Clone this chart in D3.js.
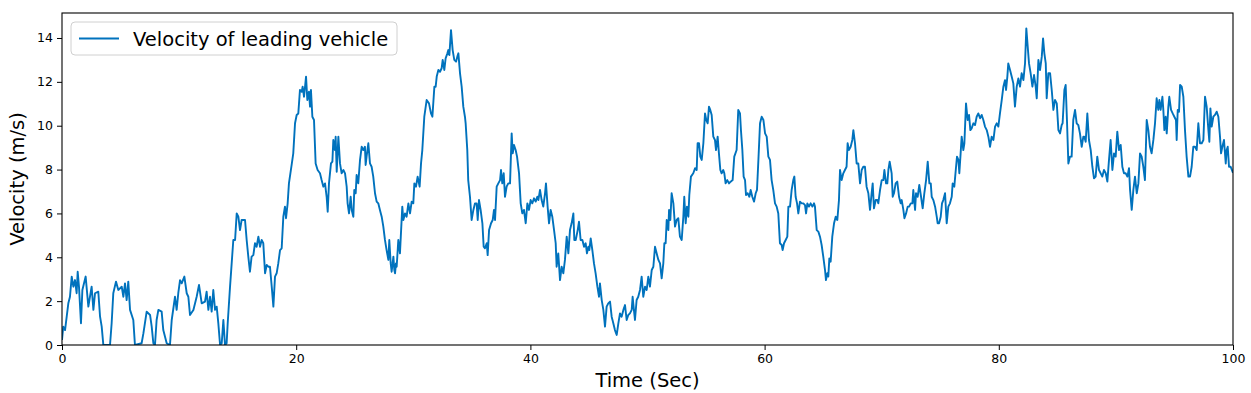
<!DOCTYPE html>
<html lang="en">
<head>
  <meta charset="UTF-8">
  <title>Velocity of leading vehicle</title>
  <script src="https://d3js.org/d3.v7.min.js"></script>
  <style>
    body, html { margin: 0; background: #fff; }
    text { font-family: "DejaVu Sans", sans-serif; }
  </style>
</head>
<body>
  <svg width="1251" height="393"></svg>
  <script>
    // data (time in sec, velocity in m/s)
    const time = [
      0, 0.11, 0.26, 0.54, 0.68, 0.83, 0.97, 1.11, 1.25, 1.34, 1.45, 1.62, 1.74, 2.02, 2.25, 2.53, 2.68, 2.82, 3.10, 3.25,
      3.39, 3.53, 4.10, 4.24, 4.38, 4.61, 4.81, 5.10, 5.24, 5.38, 5.52, 5.66, 5.81, 6.09, 6.23, 6.80, 6.95, 7.23, 7.52, 7.66,
      7.80, 7.94, 8.08, 8.23, 8.51, 8.65, 8.94, 9.22, 9.37, 9.65, 9.79, 9.93, 10.08, 10.22, 10.45, 10.65, 10.79, 10.93, 11.22, 11.50,
      11.70, 11.93, 12.21, 12.35, 12.50, 12.64, 12.78, 12.92, 13.07, 13.21, 13.35, 13.50, 13.64, 13.78, 13.92, 14.06, 14.15, 14.35, 14.49, 14.63,
      14.78, 14.92, 15.06, 15.20, 15.34, 15.48, 15.63, 15.77, 15.91, 16.05, 16.19, 16.34, 16.48, 16.62, 16.77, 16.91, 17.05, 17.19, 17.34, 17.48,
      17.62, 17.76, 17.91, 18.05, 18.19, 18.33, 18.47, 18.62, 18.76, 18.90, 19.04, 19.13, 19.27, 19.38, 19.61, 19.75, 19.90, 20.04, 20.18, 20.32,
      20.47, 20.55, 20.67, 20.84, 20.95, 21.09, 21.18, 21.26, 21.38, 21.52, 21.66, 21.83, 22.03, 22.17, 22.32, 22.46, 22.60, 22.69, 22.80, 22.97,
      23.09, 23.17, 23.31, 23.37, 23.46, 23.60, 23.74, 23.88, 24.03, 24.17, 24.31, 24.39, 24.51, 24.65, 24.74, 24.88, 24.96, 25.08, 25.16, 25.30,
      25.45, 25.59, 25.73, 25.87, 25.93, 26.01, 26.16, 26.30, 26.44, 26.58, 26.73, 26.87, 27.01, 27.15, 27.30, 27.44, 27.58, 27.72, 27.87, 27.95,
      28.07, 28.15, 28.30, 28.38, 28.44, 28.52, 28.58, 28.72, 28.86, 29.06, 29.15, 29.29, 29.43, 29.58, 29.72, 29.86, 30.00, 30.09, 30.23, 30.37,
      30.54, 30.66, 30.77, 30.94, 31.14, 31.34, 31.51, 31.63, 31.80, 31.91, 32.00, 32.14, 32.28, 32.42, 32.51, 32.65, 32.76, 32.91, 32.99, 33.08,
      33.22, 33.36, 33.50, 33.65, 33.76, 33.85, 33.99, 34.13, 34.27, 34.41, 34.47, 34.61, 34.69, 34.84, 34.98, 35.13, 35.27, 35.41, 35.50, 35.61,
      35.75, 35.90, 36.01, 36.12, 36.27, 36.35, 36.47, 36.64, 36.78, 36.89, 36.98, 37.12, 37.26, 37.41, 37.49, 37.60, 37.72, 37.83, 37.97, 38.11,
      38.26, 38.40, 38.49, 38.60, 38.74, 38.86, 39.03, 39.17, 39.31, 39.45, 39.60, 39.74, 39.88, 40.02, 40.16, 40.31, 40.45, 40.59, 40.68, 40.82,
      40.96, 41.10, 41.25, 41.33, 41.47, 41.59, 41.73, 41.87, 42.02, 42.16, 42.24, 42.38, 42.53, 42.67, 42.81, 42.95, 43.10, 43.24, 43.38, 43.52,
      43.67, 43.75, 43.87, 44.04, 44.15, 44.29, 44.44, 44.58, 44.72, 44.83, 44.95, 45.03, 45.15, 45.29, 45.43, 45.57, 45.72, 45.86, 45.94, 46.09,
      46.23, 46.37, 46.51, 46.65, 46.80, 46.94, 47.08, 47.22, 47.37, 47.51, 47.65, 47.79, 47.94, 48.08, 48.22, 48.36, 48.50, 48.65, 48.73, 48.84,
      48.93, 49.07, 49.21, 49.36, 49.50, 49.64, 49.79, 49.93, 50.07, 50.21, 50.36, 50.50, 50.64, 50.78, 50.93, 51.07, 51.21, 51.35, 51.44, 51.55,
      51.64, 51.78, 51.84, 51.95, 52.06, 52.21, 52.35, 52.49, 52.63, 52.77, 52.92, 53.06, 53.14, 53.26, 53.37, 53.49, 53.57, 53.71, 53.91, 54.06,
      54.20, 54.28, 54.40, 54.51, 54.63, 54.77, 54.91, 55.02, 55.14, 55.25, 55.36, 55.48, 55.62, 55.76, 55.85, 55.99, 56.10, 56.22, 56.33, 56.47,
      56.56, 56.67, 56.81, 56.96, 57.10, 57.27, 57.41, 57.61, 57.75, 57.90, 57.98, 58.10, 58.21, 58.33, 58.41, 58.55, 58.70, 58.81, 58.95, 59.10,
      59.24, 59.35, 59.47, 59.61, 59.75, 59.90, 60.04, 60.18, 60.32, 60.46, 60.60, 60.74, 60.89, 61.03, 61.17, 61.31, 61.46, 61.54, 61.66, 61.80,
      61.94, 62.03, 62.17, 62.31, 62.45, 62.54, 62.65, 62.77, 62.88, 63.02, 63.17, 63.31, 63.45, 63.54, 63.65, 63.79, 63.93, 64.08, 64.22, 64.30,
      64.45, 64.59, 64.73, 64.87, 65.01, 65.16, 65.24, 65.36, 65.44, 65.53, 65.64, 65.78, 65.93, 66.07, 66.21, 66.35, 66.44, 66.58, 66.72, 66.86,
      67.00, 67.09, 67.20, 67.35, 67.49, 67.58, 67.72, 67.86, 68.00, 68.15, 68.29, 68.43, 68.57, 68.71, 68.86, 69.00, 69.14, 69.23, 69.34, 69.49,
      69.63, 69.71, 69.86, 70.00, 70.14, 70.23, 70.37, 70.48, 70.57, 70.68, 70.85, 70.94, 71.05, 71.19, 71.33, 71.48, 71.62, 71.71, 71.85, 71.94,
      72.08, 72.22, 72.34, 72.48, 72.62, 72.70, 72.85, 72.93, 73.07, 73.21, 73.36, 73.50, 73.64, 73.79, 73.93, 74.07, 74.19, 74.27, 74.41, 74.56,
      74.70, 74.78, 74.90, 75.04, 75.15, 75.26, 75.41, 75.55, 75.69, 75.83, 75.98, 76.06, 76.20, 76.35, 76.43, 76.55, 76.63, 76.74, 76.83, 76.97,
      77.06, 77.20, 77.34, 77.46, 77.57, 77.68, 77.83, 77.97, 78.11, 78.25, 78.40, 78.54, 78.68, 78.82, 78.97, 79.11, 79.25, 79.39, 79.54, 79.68,
      79.82, 79.96, 80.10, 80.25, 80.39, 80.53, 80.62, 80.73, 80.81, 80.96, 81.10, 81.24, 81.38, 81.53, 81.67, 81.81, 81.95, 82.10, 82.24, 82.35,
      82.47, 82.58, 82.72, 82.87, 83.01, 83.15, 83.24, 83.38, 83.52, 83.67, 83.78, 83.89, 84.01, 84.09, 84.23, 84.38, 84.52, 84.66, 84.80, 84.95,
      85.09, 85.23, 85.37, 85.45, 85.60, 85.71, 85.82, 85.94, 86.08, 86.22, 86.36, 86.51, 86.65, 86.79, 86.93, 87.08, 87.22, 87.30, 87.42, 87.56,
      87.70, 87.85, 87.99, 88.13, 88.27, 88.41, 88.56, 88.70, 88.84, 88.98, 89.13, 89.27, 89.41, 89.55, 89.70, 89.84, 89.98, 90.12, 90.27, 90.41,
      90.55, 90.69, 90.84, 90.98, 91.12, 91.21, 91.35, 91.49, 91.63, 91.78, 91.92, 92.06, 92.20, 92.34, 92.48, 92.63, 92.77, 92.91, 93.05, 93.20,
      93.34, 93.48, 93.62, 93.71, 93.82, 93.97, 94.05, 94.14, 94.25, 94.34, 94.48, 94.56, 94.71, 94.85, 94.99, 95.13, 95.19, 95.28, 95.39, 95.48,
      95.62, 95.76, 95.90, 96.04, 96.19, 96.33, 96.47, 96.61, 96.76, 96.90, 97.04, 97.18, 97.33, 97.47, 97.61, 97.75, 97.90, 97.98, 98.07, 98.18,
      98.32, 98.46, 98.61, 98.75, 98.89, 98.98, 99.09, 99.23, 99.38, 99.46, 99.55, 99.66, 99.80, 100
    ];
    const velocity = [
      0.23, 0.84, 0.68, 1.90, 2.20, 3.12, 2.66, 2.96, 2.36, 3.34, 2.66, 0.99, 2.51, 3.12, 1.75, 2.66, 1.60, 2.36, 2.43, 1.29,
      0.84, 0, 0, 0.99, 2.36, 2.89, 2.51, 2.66, 2.20, 2.81, 2.05, 2.89, 1.60, 1.14, 0, 0.08, 0.53, 1.52, 1.37, 0.84,
      0.08, 0, 1.14, 1.60, 1.52, 0.68, 0.08, 0, 1.14, 2.20, 1.60, 2.36, 2.96, 2.81, 3.12, 2.36, 2.20, 1.37, 1.60, 2.20,
      2.74, 1.90, 1.98, 2.43, 1.60, 2.20, 1.52, 2.51, 1.60, 1.75, 0.99, 0, 0.08, 1.14, 0, 0.08, 0.99, 2.66, 3.72, 4.79,
      4.79, 6.00, 5.85, 5.24, 5.70, 5.70, 5.70, 4.79, 4.03, 3.34, 4.03, 4.10, 4.64, 4.48, 4.94, 4.48, 4.79, 4.64, 3.27, 3.65,
      3.57, 3.57, 2.66, 1.75, 3.12, 3.27, 3.72, 4.33, 4.41, 5.85, 6.31, 5.78, 6.46, 7.37, 8.21, 8.74, 10.11, 10.49, 10.56, 11.63,
      11.55, 11.78, 11.32, 12.24, 11.17, 11.55, 10.87, 11.63, 10.41, 10.26, 8.28, 7.98, 7.83, 7.52, 7.22, 7.37, 6.76, 6.08, 7.37, 8.28,
      8.36, 9.35, 8.89, 9.50, 7.90, 9.50, 8.28, 7.83, 7.98, 7.83, 7.22, 6.46, 6.00, 6.76, 6.16, 5.85, 7.07, 6.92, 7.75, 7.37,
      8.44, 9.04, 8.89, 9.04, 8.21, 8.59, 9.20, 8.28, 8.13, 7.68, 6.92, 6.54, 6.46, 6.16, 5.85, 5.40, 4.79, 4.33, 3.88, 4.79,
      3.72, 3.34, 4.03, 3.42, 3.27, 3.72, 3.57, 4.79, 4.18, 6.31, 5.70, 6.00, 5.85, 6.46, 6.00, 6.54, 6.46, 7.37, 7.22, 7.68,
      7.22, 8.28, 8.89, 10.41, 11.17, 11.02, 10.56, 10.41, 11.78, 11.78, 12.24, 12.54, 12.46, 12.62, 13.00, 12.54, 13.07, 13.30, 13.45, 13.22,
      14.36, 13.45, 13.00, 12.92, 13.15, 13.30, 12.39, 11.78, 10.87, 10.41, 10.11, 8.89, 7.52, 6.76, 5.70, 6.16, 6.46, 6.46, 5.70, 6.61,
      6.16, 5.55, 4.48, 4.41, 4.64, 4.10, 5.24, 5.55, 5.70, 6.16, 5.70, 7.22, 7.37, 7.52, 7.98, 7.37, 7.83, 6.76, 7.22, 7.37,
      7.37, 9.65, 8.74, 9.12, 8.89, 8.59, 7.83, 6.46, 6.00, 6.16, 5.55, 6.46, 6.16, 6.61, 6.46, 6.69, 6.54, 6.76, 6.61, 7.07,
      6.61, 6.31, 6.92, 7.37, 6.31, 5.55, 6.16, 5.85, 5.24, 4.64, 3.57, 4.18, 2.96, 3.57, 3.27, 3.88, 4.94, 4.18, 5.24, 5.55,
      6.00, 4.79, 4.79, 5.24, 5.62, 4.79, 4.79, 4.48, 4.64, 4.18, 4.48, 4.33, 4.86, 4.33, 3.72, 3.27, 2.66, 2.20, 2.81, 2.05,
      1.60, 0.84, 1.75, 1.90, 1.98, 1.29, 0.99, 0.68, 0.46, 0.99, 1.44, 1.29, 1.60, 1.82, 1.14, 1.37, 1.44, 1.60, 2.20, 1.60,
      1.14, 2.05, 2.20, 2.51, 3.12, 2.20, 2.66, 2.51, 3.12, 2.66, 3.42, 3.57, 4.48, 4.18, 3.88, 3.72, 3.04, 3.72, 4.64, 4.64,
      5.70, 5.24, 6.16, 5.70, 6.92, 6.46, 5.40, 5.70, 5.78, 4.94, 4.79, 5.85, 6.76, 5.55, 6.31, 5.85, 6.84, 7.68, 7.83, 8.06,
      7.98, 9.20, 9.20, 8.59, 8.44, 9.20, 10.56, 10.26, 10.11, 10.87, 10.72, 10.49, 9.50, 9.35, 8.89, 9.50, 8.74, 7.98, 7.83, 7.98,
      7.83, 7.37, 7.52, 7.37, 7.45, 7.52, 8.59, 8.89, 10.72, 10.56, 9.80, 8.89, 7.68, 7.52, 6.84, 6.92, 6.76, 7.07, 6.76, 6.54,
      6.92, 7.07, 8.44, 10.11, 10.41, 10.26, 9.65, 9.50, 8.59, 8.44, 7.52, 7.07, 6.46, 6.31, 6.00, 4.64, 4.56, 4.33, 4.64, 4.79,
      4.94, 6.31, 6.31, 7.07, 7.52, 7.68, 6.76, 6.46, 6.00, 6.54, 6.46, 6.46, 6.38, 6.00, 6.46, 6.31, 6.46, 6.31, 6.46, 6.31,
      5.24, 5.17, 4.94, 4.56, 4.03, 3.42, 2.96, 3.27, 3.12, 3.95, 3.80, 4.94, 5.55, 5.85, 5.70, 6.61, 7.98, 7.52, 7.83, 7.98,
      8.13, 9.20, 8.89, 9.04, 9.35, 9.80, 9.20, 8.28, 8.28, 7.37, 7.98, 8.13, 8.13, 7.22, 6.92, 6.16, 6.92, 7.37, 6.23, 6.61,
      6.61, 6.46, 7.07, 7.52, 7.52, 7.98, 7.37, 7.37, 7.98, 8.36, 7.83, 6.76, 6.92, 7.37, 7.45, 6.76, 6.46, 6.61, 6.16, 5.78,
      6.00, 6.31, 6.31, 6.46, 6.46, 7.07, 6.16, 6.92, 6.76, 7.30, 6.76, 6.23, 6.92, 7.52, 8.36, 7.37, 7.37, 6.76, 6.61, 6.31,
      5.85, 5.55, 5.55, 5.85, 6.46, 6.61, 6.92, 5.55, 6.31, 6.46, 6.76, 7.37, 7.22, 8.13, 8.59, 8.44, 7.83, 8.74, 9.50, 8.89,
      9.20, 11.02, 10.26, 10.49, 9.80, 9.88, 10.11, 10.03, 10.41, 10.56, 10.34, 10.49, 10.26, 9.96, 9.80, 9.50, 9.04, 9.50, 9.35, 9.96,
      10.11, 9.96, 10.56, 11.17, 11.78, 12.08, 11.63, 12.24, 12.84, 12.54, 12.24, 11.93, 10.87, 11.78, 12.16, 11.78, 12.39, 12.08, 12.84, 14.44,
      13.60, 12.84, 12.39, 11.78, 12.31, 11.78, 11.25, 13.00, 12.54, 13.15, 13.98, 13.30, 12.84, 11.25, 12.39, 12.39, 11.63, 10.72, 11.17, 11.02,
      9.80, 9.65, 10.03, 10.11, 11.63, 11.86, 10.26, 8.28, 8.59, 8.59, 10.26, 10.72, 10.11, 10.03, 9.65, 9.04, 9.50, 9.50, 9.27, 10.56,
      9.35, 8.89, 8.13, 7.60, 7.68, 8.59, 7.98, 7.83, 7.68, 7.98, 7.83, 7.45, 8.44, 9.35, 7.98, 8.74, 8.59, 9.73, 8.89, 9.12,
      8.13, 7.83, 7.83, 7.68, 8.06, 7.07, 6.16, 7.07, 7.68, 6.92, 7.37, 8.74, 8.59, 8.13, 7.52, 10.26, 9.80, 9.04, 8.74, 9.35,
      10.11, 11.25, 10.72, 11.17, 10.72, 11.32, 10.72, 9.80, 10.41, 9.65, 10.87, 11.32, 10.72, 10.56, 10.41, 10.26, 9.35, 10.72, 10.64, 11.86,
      11.78, 11.32, 9.80, 8.59, 7.68, 7.68, 8.13, 9.04, 9.04, 8.89, 10.11, 9.20, 9.20, 9.35, 11.32, 10.87, 9.80, 9.27, 10.79, 9.96,
      10.41, 10.49, 10.64, 10.41, 9.50, 8.74, 9.04, 9.35, 8.28, 8.89, 9.04, 8.13, 8.13, 7.85
    ];
    const xTicks = [0, 20, 40, 60, 80, 100];
    const yTicks = [0, 2, 4, 6, 8, 10, 12, 14];
    const seriesName = "Velocity of leading vehicle";

    const n = Math.min(time.length, velocity.length);
    const data = time.slice(0, n).map((t, i) => ({t: t, v: velocity[i]}));

    const svg = d3.select("svg");
    const plotLeft = 62, plotRight = 1233, plotTop = 13, plotBottom = 345;

    const x = d3.scaleLinear().domain([0, 100]).range([plotLeft, plotRight]);
    const y = d3.scaleLinear().domain([0, 15.14]).range([plotBottom, plotTop]);

    svg.append("clipPath").attr("id", "clip")
      .append("rect").attr("x", plotLeft).attr("y", plotTop)
      .attr("width", plotRight - plotLeft).attr("height", plotBottom - plotTop);

    // the line
    svg.append("path")
      .datum(data)
      .attr("clip-path", "url(#clip)")
      .attr("fill", "none")
      .attr("stroke", "#0072BD")
      .attr("stroke-width", 1.9)
      .attr("stroke-linejoin", "round")
      .attr("d", d3.line().x(d => x(d.t)).y(d => y(d.v)));

    // axes
    const xAxis = svg.append("g")
      .attr("transform", `translate(0,${plotBottom})`)
      .call(d3.axisBottom(x).tickValues(xTicks).tickSize(5).tickPadding(4).tickFormat(d3.format("d")));
    const yAxis = svg.append("g")
      .attr("transform", `translate(${plotLeft},0)`)
      .call(d3.axisLeft(y).tickValues(yTicks).tickSize(5).tickPadding(4).tickFormat(d3.format("d")));
    [xAxis, yAxis].forEach(g => {
      g.select(".domain").remove();
      g.selectAll("text").attr("font-size", 12.5).attr("fill", "#000").style("font-family", "DejaVu Sans");
      g.selectAll("line").attr("stroke", "#000").attr("stroke-width", 1);
    });

    // frame
    svg.append("rect")
      .attr("x", plotLeft).attr("y", plotTop)
      .attr("width", plotRight - plotLeft).attr("height", plotBottom - plotTop)
      .attr("fill", "none").attr("stroke", "#000").attr("stroke-width", 1.1);

    // labels
    svg.append("text")
      .attr("x", (plotLeft + plotRight) / 2).attr("y", 387)
      .attr("text-anchor", "middle").attr("font-size", 19.5)
      .text("Time (Sec)");
    svg.append("text")
      .attr("transform", `translate(24,${(plotTop + plotBottom) / 2}) rotate(-90)`)
      .attr("text-anchor", "middle").attr("font-size", 19.5)
      .text("Velocity (m/s)");

    // legend
    const legend = svg.append("g").attr("transform", "translate(71,22)");
    legend.append("rect")
      .attr("width", 326).attr("height", 33).attr("rx", 4)
      .attr("fill", "#fff").attr("fill-opacity", 0.8)
      .attr("stroke", "#d0d0d0");
    legend.append("line")
      .attr("x1", 8).attr("x2", 48).attr("y1", 16.5).attr("y2", 16.5)
      .attr("stroke", "#0072BD").attr("stroke-width", 1.9);
    legend.append("text")
      .attr("x", 62).attr("y", 23.5)
      .attr("font-size", 19.5)
      .text(seriesName);
  </script>
</body>
</html>
